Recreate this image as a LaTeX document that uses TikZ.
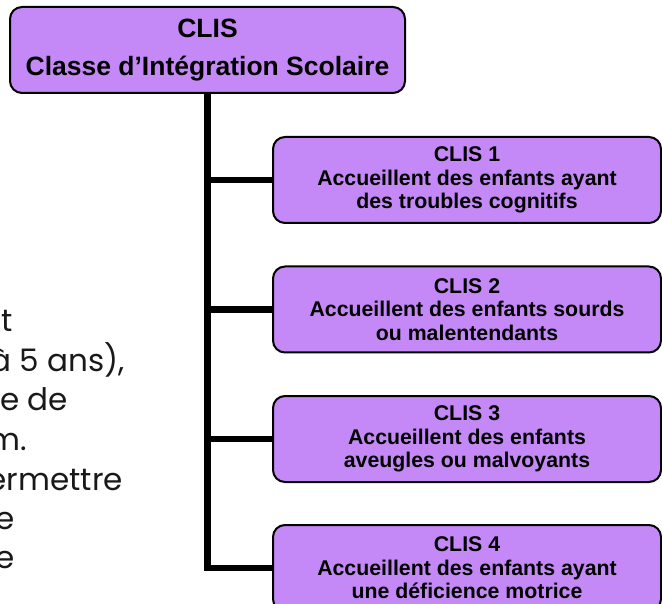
\documentclass[tikz,border=0pt]{standalone}
\usepackage{fontspec}
\setmainfont{Liberation Sans}
\newfontfamily\gothic{Poppins}
\definecolor{clisfill}{RGB}{197,137,247}
\definecolor{sidetext}{RGB}{25,25,25}
\begin{document}
\begin{tikzpicture}[x=1pt,y=-1pt,
  box/.style={draw=black, line width=2pt, fill=clisfill, rounded corners=12pt,
    inner sep=0pt, align=center, minimum width=388pt, minimum height=86pt,
    font=\bfseries\fontsize{21.3}{23.5}\selectfont},
  topbox/.style={box, minimum width=395pt, minimum height=86pt,
    font=\bfseries\fontsize{26.5}{38}\selectfont},
  conn/.style={draw=black, line width=6.5pt, line join=miter},
  side/.style={anchor=base east, font=\gothic\fontsize{31}{34}\selectfont,
    text=sidetext, inner sep=0pt}]
\useasboundingbox (0,0) rectangle (662,604);
\clip (0,0) rectangle (662,604);

% left paragraph fragments (cut at the left edge, as in the reference)
\node[side] (s1) at (13,332) {t};
\node[side] (s2) at (125,371) {à 5 ans),};
\node[side] (s3) at (68,410) {e de};
\node[side] (s4) at (27,450) {m.};
\node[side] (s5) at (123,490) {ermettre};
\node[side] (s6) at (15,529) {e};
\node[side] (s7) at (15,568) {e};

% boxes
\node[topbox] (top) at (207.5,50) {CLIS\\Classe d’Intégration Scolaire};
\node[box] (c1) at (467,180) {CLIS 1\\Accueillent des enfants ayant\\des troubles cognitifs};
\node[box] (c2) at (467,309.5) {CLIS 2\\Accueillent des enfants sourds\\ou malentendants};
\node[box] (c3) at (467,439) {CLIS 3\\Accueillent des enfants\\aveugles ou malvoyants};
\node[box] (c4) at (467,568) {CLIS 4\\Accueillent des enfants ayant\\une déficience motrice};

% connectors
\draw[conn] (top.south) |- (c4.west);
\draw[conn] (top.south |- c1.west) -- (c1.west);
\draw[conn] (top.south |- c2.west) -- (c2.west);
\draw[conn] (top.south |- c3.west) -- (c3.west);
\end{tikzpicture}
\end{document}
